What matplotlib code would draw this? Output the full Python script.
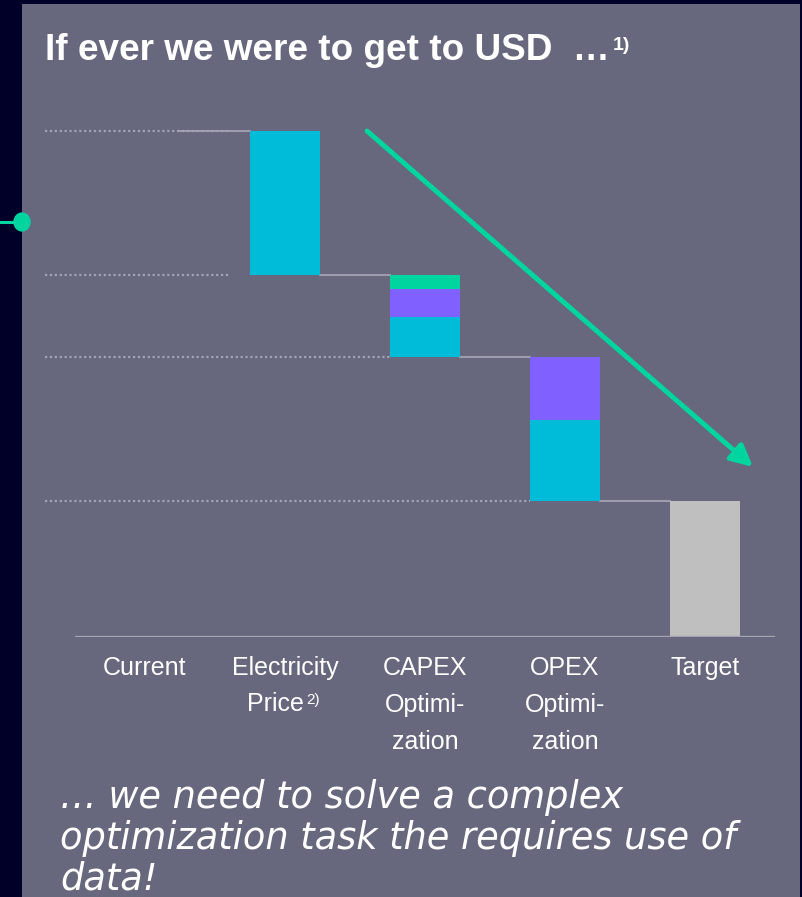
import numpy as np
import matplotlib.pyplot as plt
from matplotlib.patches import Rectangle, Circle
from matplotlib.lines import Line2D

# data (arbitrary units)
categories = ["Current", "Electricity", "CAPEX\nOptimi-\nzation", "OPEX\nOptimi-\nzation", "Target"]
current_value = 50.6
electricity_drop = [14.4]            # cyan
capex_drop = [4.0, 2.8, 1.4]         # cyan, purple, green (bottom to top)
opex_drop = [8.1, 6.3]               # cyan, purple
target_value = 13.6

dark = "#000028"
panel = "#67677d"
cyan = "#00bcd9"
purple = "#8060ff"
green = "#00d49f"
grey_bar = "#bfbfbf"
line_grey = "#a3a3b3"

plt.rcParams['font.family'] = ['Liberation Sans', 'DejaVu Sans']

W, H = 802, 897
fig = plt.figure(figsize=(W / 100, H / 100), dpi=100)
fig.patch.set_facecolor(dark)
fig.patches.append(Rectangle((22 / W, 0), (800 - 22) / W, (H - 4) / H, transform=fig.transFigure,
                             facecolor=panel, edgecolor="none", zorder=-5))

# left marker
fig.add_artist(Line2D([0, 22 / W], [1 - 222 / H] * 2, color=green, lw=2.2, transform=fig.transFigure))
fig.add_artist(Circle((22 / W, 1 - 222 / H), 8 / W, transform=fig.transFigure, color=green))

# axes: x -0.5..4.5 spans px 75..775, y=0 at px 637
ax_bottom = (H - 637) / H
ax = fig.add_axes([75 / W, ax_bottom, 700 / W, 537 / H])
ax.set_xlim(-0.5, 4.5)
ax.set_ylim(0, 53.7)
ax.patch.set_alpha(0)
for s in ax.spines.values():
    s.set_visible(False)
ax.set_yticks([])
ax.set_xticks(range(len(categories)))
ax.set_xticklabels(categories, color="white", fontsize=18, linespacing=1.66, va="top")
ax.tick_params(axis="x", length=0, pad=14)
ax.axhline(0, color=line_grey, lw=2.4, zorder=3)
# second line of the electricity label with its footnote mark
fig.text(304 / W, 1 - 704 / H, "Price", color="white", fontsize=18, va="center", ha="right")
fig.text(306 / W, 1 - 700 / H, "2)", color="white", fontsize=11, va="center", ha="left")

bw = 0.5
# cumulative levels
lvl0 = current_value
lvl1 = lvl0 - sum(electricity_drop)
lvl2 = lvl1 - sum(capex_drop)
lvl3 = lvl2 - sum(opex_drop)

# current bar is drawn in the panel colour, so it does not show
ax.bar(0, current_value, width=bw, color=panel, zorder=0, linewidth=0)

def stack(x, top, parts, colors):
    base = top - sum(parts)
    for v, c in zip(parts, colors):
        ax.bar(x, v, bottom=base, width=bw, color=c, zorder=2, linewidth=0)
        base += v

stack(1, lvl0, electricity_drop, [cyan])
stack(2, lvl1, capex_drop, [cyan, purple, green])
stack(3, lvl2, opex_drop, [cyan, purple])
ax.bar(4, target_value, width=bw, color=grey_bar, zorder=2, linewidth=0)

# connectors
for i, lv in enumerate([lvl0, lvl1, lvl2, lvl3]):
    ax.plot([i + bw / 2, i + 1 - bw / 2], [lv, lv], color=line_grey, lw=1.3, zorder=1)

# dotted reference lines
x_left = -0.5 - 30 / 140
for lv, xe in zip([lvl0, lvl1, lvl2, lvl3], [0.6, 0.6, 1.75, 2.75]):
    ax.plot([x_left, xe], [lv, lv], color=line_grey, lw=1.6, linestyle=(0, (1, 1.2)),
            clip_on=False, zorder=1)

# trend arrow
ax.annotate("", xy=(4.343, 17.0), xytext=(1.586, lvl0), annotation_clip=False,
            arrowprops=dict(arrowstyle="-|>,head_length=1.3,head_width=0.65", color=green,
                            lw=3.6, shrinkA=0, shrinkB=0))

# title
fig.text(45 / W, 1 - 50 / H, "If ever we were to get to USD  \u2026", color="white", fontsize=26.6,
         fontweight="bold", va="center", ha="left")
fig.text(613 / W, 1 - 46 / H, "1)", color="white", fontsize=14, fontweight="bold",
         va="center", ha="left")

# closing remark
fig.text(60 / W, 1 - 838 / H,
         "\u2026 we need to solve a complex\noptimization task the requires use of\ndata!",
         color="white", fontsize=26.5, family=["DejaVu Sans"],
         fontstyle="italic", va="center", ha="left", linespacing=1.13)

fig.savefig("out.png", dpi=100, facecolor=fig.get_facecolor())
